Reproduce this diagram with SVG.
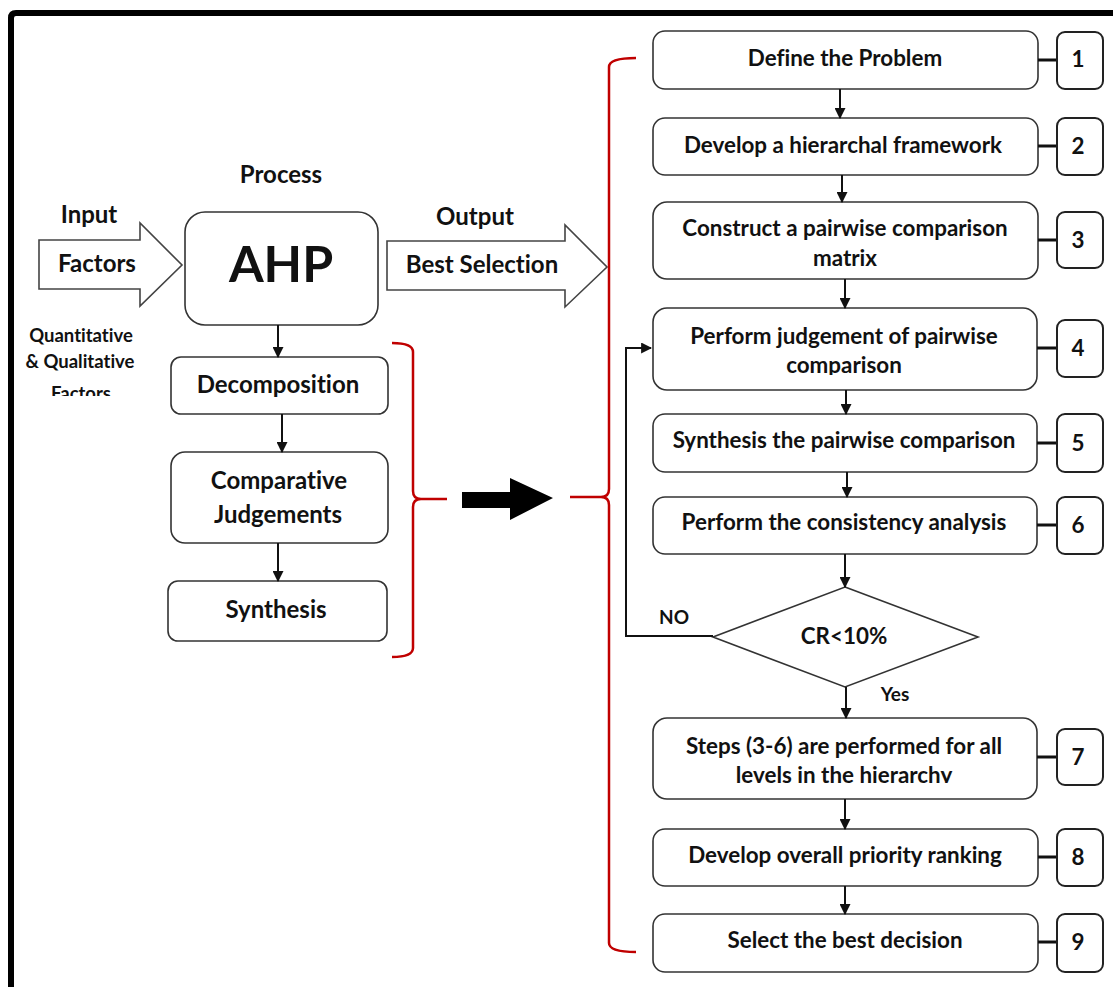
<svg xmlns="http://www.w3.org/2000/svg" width="1113" height="987" viewBox="0 0 1113 987">
  <defs>
    <style>
      .t { font-family: Lato, "Liberation Sans", sans-serif; font-weight: bold; fill: #111; text-anchor: middle; font-variant-ligatures: none; }
      .lg { font-size: 24px; }
      .st { font-size: 22.4px; }
      .sm { font-size: 18.5px; }
      .box { fill: #fff; stroke: #333; stroke-width: 1.6; }
      .num { fill: #fff; stroke: #222; stroke-width: 2; }
      .tie { stroke: #111; stroke-width: 3; }
      .flow { fill: none; stroke: #111; stroke-width: 2; marker-end: url(#ah); }
      .brace { fill: none; stroke: #c00000; stroke-width: 2.5; }
      .block { fill: #fff; stroke: #444; stroke-width: 1.6; stroke-linejoin: miter; }
    </style>
    <marker id="ah" viewBox="0 0 10 10" refX="9" refY="5" markerWidth="5.5" markerHeight="5.5" orient="auto">
      <path d="M0,0 L10,5 L0,10 Z" fill="#111"/>
    </marker>
    <clipPath id="clipFactors"><rect x="0" y="300" width="170" height="96"/></clipPath>
    <clipPath id="clip4"><rect x="653" y="300" width="385" height="75"/></clipPath>
    <clipPath id="clip7"><rect x="653" y="720" width="385" height="63"/></clipPath>
  </defs>

  <rect x="0" y="0" width="1113" height="987" fill="#fff"/>

  <!-- outer frame -->
  <path d="M11,987 L11,18 Q11,13 16,13 L1113,13" fill="none" stroke="#000" stroke-width="6"/>

  <!-- input / output labels and block arrows -->
  <g id="process-label"><text class="t lg" x="281" y="183">Process</text></g>
  <g id="input">
    <text class="t lg" x="89" y="223">Input</text>
    <polygon class="block" points="39,240 140,240 140,223 182,265 140,306 140,289 39,289"/>
    <text class="t lg" x="97" y="272">Factors</text>
  </g>
  <g id="factor-types" clip-path="url(#clipFactors)">
    <text class="t sm" x="81" y="342">Quantitative</text>
    <text class="t sm" x="80" y="368">&amp; Qualitative</text>
    <text class="t sm" x="81" y="400">Factors</text>
  </g>
  <g id="output">
    <text class="t lg" x="475" y="225">Output</text>
    <polygon class="block" points="387,241 565,241 565,225 607,267 565,307 565,290 387,290"/>
    <text class="t lg" x="482" y="273">Best Selection</text>
  </g>

  <!-- AHP core -->
  <g id="ahp">
    <rect class="box" x="185" y="212" width="193" height="113" rx="20"/>
    <text class="t" x="281" y="282" font-size="50">AHP</text>
  </g>

  <!-- AHP stages -->
  <g id="decomposition">
    <rect class="box" x="171" y="357" width="217" height="57" rx="10"/>
    <text class="t lg" x="278" y="393">Decomposition</text>
  </g>
  <g id="comparative">
    <rect class="box" x="171" y="452" width="217" height="91" rx="14"/>
    <text class="t lg" x="279" y="489">Comparative</text>
    <text class="t lg" x="278" y="523">Judgements</text>
  </g>
  <g id="synthesis">
    <rect class="box" x="168" y="581" width="219" height="60" rx="10"/>
    <text class="t lg" x="276" y="618">Synthesis</text>
  </g>

  <!-- steps -->
  <g id="step1">
    <rect class="box" x="653" y="31" width="385" height="58" rx="12"/>
    <text class="t st" x="845" y="66">Define the Problem</text>
  </g>
  <g id="step2">
    <rect class="box" x="653" y="118" width="385" height="57" rx="12"/>
    <text class="t st" x="843" y="153">Develop a hierarchal framework</text>
  </g>
  <g id="step3">
    <rect class="box" x="653" y="202" width="385" height="77" rx="14"/>
    <text class="t st" x="845" y="236">Construct a pairwise comparison</text>
    <text class="t st" x="845" y="266">matrix</text>
  </g>
  <g id="step4">
    <rect class="box" x="653" y="308" width="384" height="82" rx="14"/>
    <g clip-path="url(#clip4)">
      <text class="t st" x="844" y="344">Perform judgement of pairwise</text>
      <text class="t st" x="844" y="373">comparison</text>
    </g>
  </g>
  <g id="step5">
    <rect class="box" x="653" y="414" width="384" height="58" rx="12"/>
    <text class="t st" x="844" y="448">Synthesis the pairwise comparison</text>
  </g>
  <g id="step6">
    <rect class="box" x="653" y="497" width="384" height="57" rx="12"/>
    <text class="t st" x="844" y="530">Perform the consistency analysis</text>
  </g>
  <g id="check">
    <polygon points="845,587 978,637 845,687 713,637" fill="#fff" stroke="#333" stroke-width="1.6"/>
    <text class="t st" x="844" y="644">CR&lt;10%</text>
  </g>
  <g id="step7">
    <rect class="box" x="653" y="718" width="384" height="81" rx="14"/>
    <g clip-path="url(#clip7)">
      <text class="t st" x="844" y="754">Steps (3-6) are performed for all</text>
      <text class="t st" x="844" y="783">levels in the hierarchy</text>
    </g>
  </g>
  <g id="step8">
    <rect class="box" x="653" y="829" width="385" height="57" rx="12"/>
    <text class="t st" x="845" y="863">Develop overall priority ranking</text>
  </g>
  <g id="step9">
    <rect class="box" x="653" y="914" width="385" height="58" rx="12"/>
    <text class="t st" x="845" y="948">Select the best decision</text>
  </g>

  <!-- step numbers -->
  <g id="numbers">
    <line class="tie" x1="1038" y1="60" x2="1057" y2="60"/>
    <rect class="num" x="1057" y="32" width="46" height="57" rx="8"/>
    <text class="t st" x="1078" y="67">1</text>
    <line class="tie" x1="1038" y1="146" x2="1057" y2="146"/>
    <rect class="num" x="1057" y="118" width="46" height="57" rx="8"/>
    <text class="t st" x="1078" y="154">2</text>
    <line class="tie" x1="1038" y1="240" x2="1057" y2="240"/>
    <rect class="num" x="1057" y="212" width="46" height="56" rx="8"/>
    <text class="t st" x="1078" y="248">3</text>
    <line class="tie" x1="1037" y1="348" x2="1057" y2="348"/>
    <rect class="num" x="1057" y="320" width="46" height="57" rx="8"/>
    <text class="t st" x="1078" y="356">4</text>
    <line class="tie" x1="1037" y1="443" x2="1057" y2="443"/>
    <rect class="num" x="1057" y="414" width="46" height="58" rx="8"/>
    <text class="t st" x="1078" y="451">5</text>
    <line class="tie" x1="1037" y1="525" x2="1057" y2="525"/>
    <rect class="num" x="1057" y="497" width="46" height="57" rx="8"/>
    <text class="t st" x="1078" y="533">6</text>
    <line class="tie" x1="1037" y1="757" x2="1057" y2="757"/>
    <rect class="num" x="1057" y="729" width="46" height="56" rx="8"/>
    <text class="t st" x="1078" y="765">7</text>
    <line class="tie" x1="1038" y1="857" x2="1057" y2="857"/>
    <rect class="num" x="1057" y="829" width="46" height="57" rx="8"/>
    <text class="t st" x="1078" y="865">8</text>
    <line class="tie" x1="1038" y1="942" x2="1057" y2="942"/>
    <rect class="num" x="1057" y="914" width="46" height="58" rx="8"/>
    <text class="t st" x="1078" y="950">9</text>
  </g>

  <!-- decision labels -->
  <g id="labels">
    <text class="t" x="674" y="624" font-size="19">NO</text>
    <text class="t" x="895" y="701" font-size="19">Yes</text>
  </g>

  <!-- connectors -->
  <g id="connectors">
    <line class="flow" x1="278" y1="325" x2="278" y2="357"/>
    <line class="flow" x1="282" y1="414" x2="282" y2="452"/>
    <line class="flow" x1="278" y1="543" x2="278" y2="581"/>
    <line class="flow" x1="840" y1="89" x2="840" y2="118"/>
    <line class="flow" x1="842" y1="175" x2="842" y2="202"/>
    <line class="flow" x1="845" y1="279" x2="845" y2="308"/>
    <line class="flow" x1="846" y1="390" x2="846" y2="414"/>
    <line class="flow" x1="847" y1="472" x2="847" y2="497"/>
    <line class="flow" x1="845" y1="554" x2="845" y2="587"/>
    <line class="flow" x1="846" y1="687" x2="846" y2="718"/>
    <line class="flow" x1="845" y1="799" x2="845" y2="829"/>
    <line class="flow" x1="845" y1="886" x2="845" y2="914"/>
    <polyline class="flow" points="713,636 626,636 626,348 651,348"/>
    <polygon points="462,492 510,492 510,478 553,498 510,520 510,508 462,508" fill="#000"/>
  </g>

  <!-- grouping braces -->
  <g id="braces">
    <path class="brace" d="M392,343 Q413,343 413,352 L413,491 Q413,499 421,499 L447,499 M421,499 Q413,499 413,507 L413,648 Q413,657 392,657"/>
    <path class="brace" d="M636,58 Q609,58 609,67 L609,489 Q609,497 601,497 L570,497 M601,497 Q609,497 609,505 L609,943 Q609,952 636,952"/>
  </g>
</svg>
